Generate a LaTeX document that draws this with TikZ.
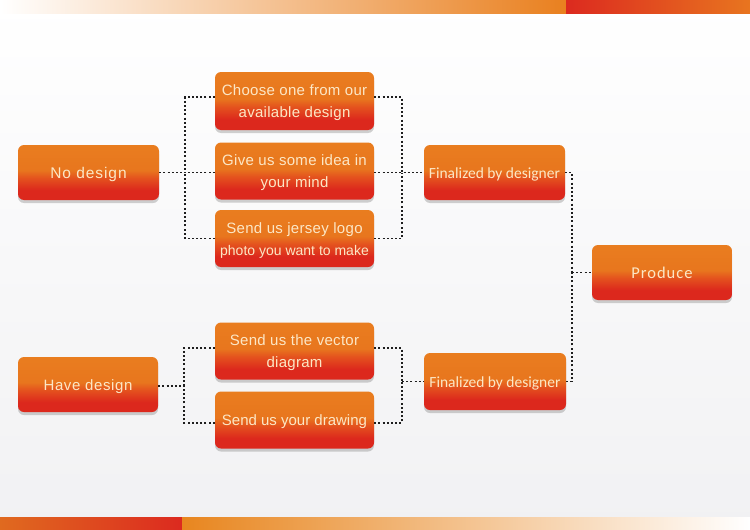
\documentclass[tikz,border=0pt]{standalone}
\usepackage{fontspec}
\setmainfont{Liberation Sans}
\newfontfamily\calfont{Carlito}
\usetikzlibrary{shadows}
\definecolor{bred}{HTML}{DC281D}
\definecolor{bmid}{HTML}{E4521E}
\definecolor{borange}{HTML}{E8761E}
\definecolor{borangetop}{HTML}{E97D1F}
\definecolor{txtcream}{HTML}{FCE7C6}
\definecolor{lineg}{HTML}{1E1E1E}
\definecolor{bgbottom}{HTML}{F1F1F3}
\definecolor{barorange}{HTML}{E9801F}
\definecolor{barred}{HTML}{DC2A1F}
\definecolor{barorange2}{HTML}{E8751F}
\definecolor{barorange3}{HTML}{E06A1F}
\definecolor{barorange4}{HTML}{E8861F}
\pgfdeclareverticalshading{btnshade}{100bp}{color(0bp)=(bred); color(25bp)=(bred); color(34bp)=(bred); color(45bp)=(bmid); color(52bp)=(borange); color(75bp)=(borangetop); color(100bp)=(borangetop)}
\tikzset{
  btn/.style={rounded corners=6pt, shading=btnshade, text=txtcream, align=center,
    inner sep=0pt, font=\fontsize{15}{22}\selectfont\addfontfeature{LetterSpace=2},
    drop shadow={shadow xshift=0pt, shadow yshift=-3pt, opacity=0.3, fill=black!60}},
  oneline/.style={text height=11pt, text depth=0pt},
  twoline/.style={text height=33pt, text depth=0pt},
  wide/.style={minimum width=159pt, minimum height=57pt},
  narrow/.style={minimum width=141pt, minimum height=55pt},
  conn/.style={draw=lineg, line width=1.5pt, dash pattern=on 2pt off 2.2pt}
}
\begin{document}
\begin{tikzpicture}[x=1pt, y=-1pt]
\useasboundingbox (0,0) rectangle (750,530);
\fill[top color=white, bottom color=bgbottom] (0,0) rectangle (750,530);
% top bars
\fill[left color=white, right color=barorange] (0,0) rectangle (566,13);
\fill[left color=barred, right color=barorange2] (566,0) rectangle (750,13);
% bottom bars
\fill[left color=barorange3, right color=barred] (0,517) rectangle (182,530);
\fill[left color=barorange4, right color=white] (182,517) rectangle (750,530);

% nodes
\node[btn, narrow, oneline, font=\fontsize{15.5}{22}\selectfont\addfontfeature{LetterSpace=6}] (nod) at (88.5,172.5) {No design};
\node[btn, wide, twoline, minimum height=58pt] (c1) at (294.5,101) {Choose one from our\\available design};
\node[btn, wide, twoline] (c2) at (294.5,171) {Give us some idea in\\your mind};
\node[btn, wide, twoline] (c3) at (294.5,238.5) {Send us jersey logo\\{\fontsize{14}{22}\selectfont\addfontfeature{LetterSpace=0}photo you want to make}};
\node[btn, narrow, oneline, font=\calfont\fontsize{15.5}{22}\selectfont] (f1) at (494.5,172.5) {Finalized by designer};
\node[btn, oneline, minimum width=140pt, minimum height=55pt, font=\calfont\fontsize{16.5}{22}\selectfont\addfontfeature{LetterSpace=6}] (prod) at (662,272.5) {Produce};
\node[btn, oneline, minimum width=140pt, minimum height=55pt, font=\fontsize{15}{22}\selectfont\addfontfeature{LetterSpace=4}] (have) at (88,384.5) {Have design};
\node[btn, wide, twoline, minimum height=57pt] (v1) at (294.5,351) {Send us the vector\\diagram};
\node[btn, wide, oneline, font=\fontsize{15}{22}\selectfont] (v2) at (294.5,420) {Send us your drawing};
\node[btn, oneline, minimum width=142pt, minimum height=57pt, font=\calfont\fontsize{15.5}{22}\selectfont] (f2) at (495,381.5) {Finalized by designer};

% junction coordinates
\coordinate (jl1) at (185,172.5);
\coordinate (jr1) at (402,172.5);
\coordinate (jl2) at (184,386);
\coordinate (jr2) at (402,381.5);
\coordinate (jp) at (572,272.5);

% connectors group 1
\draw[conn] (nod.east) -- (jl1);
\draw[conn] ([yshift=4pt]c1.west) -| (jl1);
\draw[conn] (c2.west |- jl1) -- (jl1);
\draw[conn] (c3.west) -| (jl1);
\draw[conn] ([yshift=4pt]c1.east) -| (jr1);
\draw[conn] (c3.east) -| (jr1);
\draw[conn] (c2.east |- jr1) -- (f1.west);
% connectors group 2
\draw[conn] (have.east |- jl2) -- (jl2);
\draw[conn] ([yshift=3pt]v1.west) -| (jl2);
\draw[conn] ([yshift=-3pt]v2.west) -| (jl2);
\draw[conn] ([yshift=3pt]v1.east) -| (jr2);
\draw[conn] ([yshift=-3pt]v2.east) -| (jr2);
\draw[conn] (jr2) -- (f2.west);
% final
\draw[conn] (f1.east) -| (jp);
\draw[conn] (f2.east) -| (jp);
\draw[conn] (jp) -- (prod.west);
\end{tikzpicture}
\end{document}
